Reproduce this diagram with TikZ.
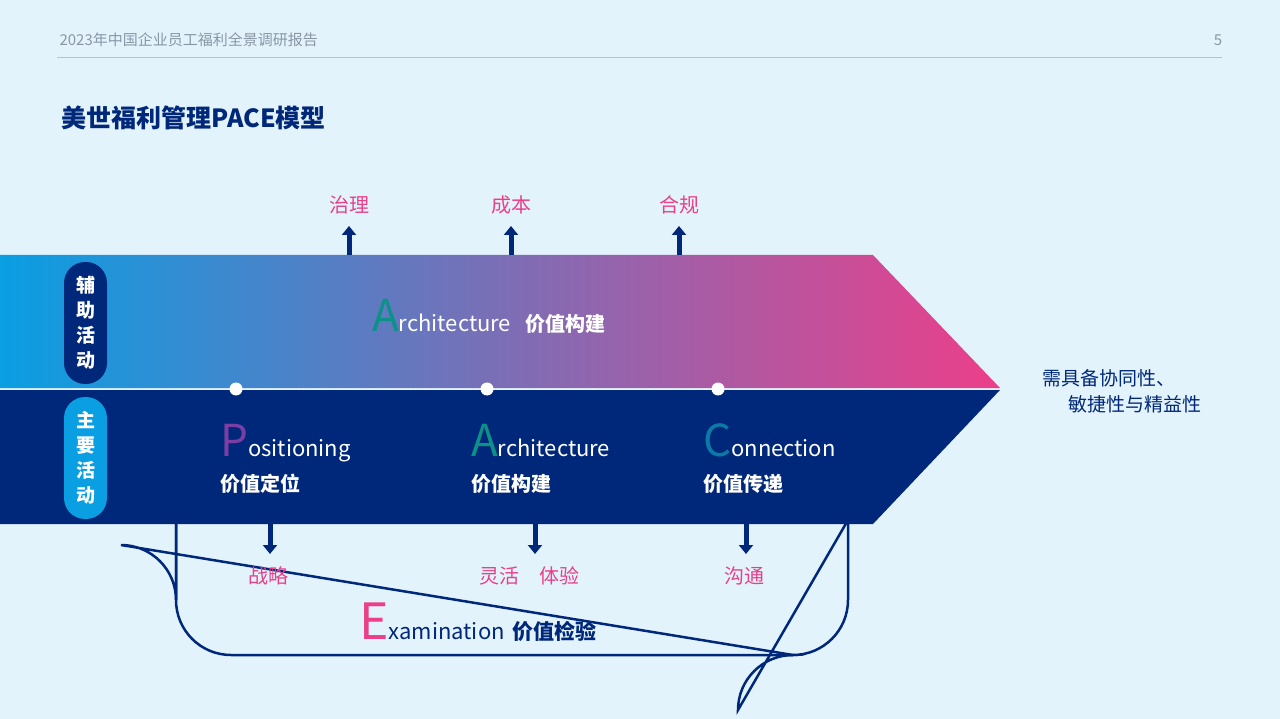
\documentclass[tikz,border=0pt]{standalone}
\usepackage{fontspec}
\setmainfont{Noto Sans CJK SC}
\usetikzlibrary{arrows.meta}
\definecolor{bg}{HTML}{E3F3FC}
\definecolor{navy}{HTML}{00287A}
\definecolor{cyanx}{HTML}{0A9EE2}
\definecolor{pinkx}{HTML}{EC3F8A}
\definecolor{pinklab}{HTML}{E8418A}
\definecolor{purp}{HTML}{7A3EA5}
\definecolor{teal}{HTML}{0C9188}
\definecolor{tealb}{HTML}{0A7BA8}
\definecolor{grayt}{HTML}{8A96A6}
\begin{document}
\begin{tikzpicture}[x=1pt,y=-1pt,
 lab/.style={text=pinklab,font=\fontsize{20}{22}\selectfont},
 uparr/.style={navy,line width=5pt,-{Triangle[width=14pt,length=9pt]}},
 word/.style={font=\fontsize{22}{24}\selectfont,anchor=base west,inner sep=0},
 cn/.style={font=\bfseries\fontsize{20}{22}\selectfont,text=white,anchor=base west,inner sep=0},
 dot/.style={circle,fill=white,minimum size=13pt,inner sep=0}]
\useasboundingbox (0,0) rectangle (1280,719);
\fill[bg] (0,0) rectangle (1280,719);
% header
\node[anchor=west,text=grayt,font=\fontsize{15}{17}\selectfont] (hd) at (56,40) {2023年中国企业员工福利全景调研报告};
\node[text=grayt,font=\fontsize{15}{17}\selectfont] (pg) at (1218,40) {5};
\draw[grayt!60,line width=1pt] (57,58) -- (1222,58);
\node[anchor=west,text=navy,font=\bfseries\fontsize{25}{27}\selectfont] (title) at (58,118) {美世福利管理PACE模型};
% U curve
\draw[navy,line width=2.5pt] (176,520) -- (176,600) arc[start angle=180,end angle=90,radius=-55] -- (793,655) arc[start angle=90,end angle=0,radius=-55] -- (848,520);
\draw[navy,line width=2.5pt,rounded corners=55pt] (176,520) -- (176,655) -- (848,655) -- (848,520);
% bands
\shade[left color=cyanx,right color=pinkx] (0,255) -- (873,255) -- (1000,388) -- (0,388) -- cycle;
\fill[navy] (0,390) -- (1000,390) -- (873,524) -- (0,524) -- cycle;
\draw[white,dotted,line width=0.8pt] (236,389) -- (718,389);
\node[dot] (d1) at (236,389) {};
\node[dot] (d2) at (487,389) {};
\node[dot] (d3) at (718,389) {};
% pills
\fill[navy,rounded corners=21pt] (64,262) rectangle (107,384);
\fill[cyanx,rounded corners=21pt] (64,397) rectangle (107,519);
\node[text=white,font=\bfseries\fontsize{19}{25}\selectfont,align=center] (p1) at (85.5,323) {辅\\助\\活\\动};
\node[text=white,font=\bfseries\fontsize{19}{25}\selectfont,align=center] (p2) at (85.5,458) {主\\要\\活\\动};
% up arrows
\foreach \x/\t/\n in {349/治理/u1,511/成本/u2,679/合规/u3}{
 \draw[uparr] (\x,255) -- (\x,226);
 \node[lab] (\n) at (\x,205) {\t};}
\foreach \x/\t/\n in {270/战略/b1,535/灵活\quad 体验/b2,746/沟通/b3}{
 \draw[uparr] (\x,524) -- (\x,554);
 \node[lab] (\n) at (\x+\ifnum\x=535 -6\else -2\fi,576) {\t};}
% words
\node[word,text=white] (aa) at (372,332) {\textcolor{teal}{\fontsize{44}{44}\selectfont A}rchitecture\hspace{14pt}\bfseries\fontsize{20}{22}\selectfont 价值构建};
\node[word,text=white] (pp) at (220,456) {\textcolor{purp}{\fontsize{44}{44}\selectfont P}ositioning};
\node[cn] (pc) at (220,491) {价值定位};
\node[word,text=white] (ab) at (471,456) {\textcolor{teal}{\fontsize{44}{44}\selectfont A}rchitecture};
\node[cn] (ac) at (471,491) {价值构建};
\node[word,text=white] (cc) at (703,456) {\textcolor{tealb}{\fontsize{44}{44}\selectfont C}onnection};
\node[cn] (ccn) at (703,491) {价值传递};
\node[word,text=navy] (ee) at (359,639) {\textcolor{pinkx}{\fontsize{50}{50}\selectfont E}xamination\hspace{8pt}\bfseries\fontsize{21}{22}\selectfont 价值检验};
\node[text=navy,font=\itshape\fontsize{19}{26}\selectfont,align=left] (rt) at (1122,391) {需具备协同性、\\\hspace{26pt}敏捷性与精益性};
\end{tikzpicture}
\end{document}
